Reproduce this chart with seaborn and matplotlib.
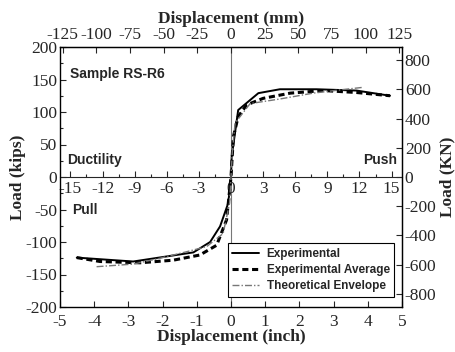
import numpy as np
import pandas as pd
import seaborn as sns
import matplotlib.pyplot as plt

# displacement in inch, load in kips
exp_x = [-4.51, -2.86, -1.1, -0.61, -0.32, -0.08, 0, 0.02, 0.21, 0.8, 1.43, 2.5, 3.67, 4.65]
exp_y = [-124, -130, -116, -100, -76, -40, 0, 31, 103, 129, 135, 135, 133, 125]

avg_x = [-4.51, -3.83, -2.66, -1.69, -0.91, -0.42, -0.13, 0, 0.07, 0.21, 0.46, 0.94, 1.73, 2.7, 3.67, 4.65]
avg_y = [-124, -130, -132, -128, -120, -105, -66, 0, 62, 93, 111, 121, 129, 133, 130, 125]

theo_x = [-3.93, -2.86, -2.08, -1.3, -0.71, -0.23, -0.04, 0, 0.04, 0.12, 0.56, 1.43, 2.4, 3.19, 3.87]
theo_y = [-138, -134, -125, -115, -107, -87, -40, 0, 40, 83, 113, 120, 129, 134, 138]

mm_ticks = list(range(-125, 126, 25))
inch_ticks = list(range(-5, 6))
kips_ticks = list(range(-200, 201, 50))
kn_ticks = list(range(-800, 801, 200))
duct_ticks = list(range(-15, 16, 3))
dy = 0.313  # yield displacement (inch)

sns.set_style("ticks")
plt.rcParams["font.family"] = ["Liberation Serif", "DejaVu Serif"]
plt.rcParams["axes.unicode_minus"] = False
plt.rcParams["xtick.direction"] = "in"
plt.rcParams["ytick.direction"] = "in"

fig = plt.figure(figsize=(4.56, 3.52), dpi=100)
ax = fig.add_axes([60 / 456, 1 - 307 / 352, 342 / 456, 260 / 352])

sns.lineplot(x=exp_x, y=exp_y, ax=ax, color="black", lw=1.4, label="Experimental", sort=False)
sns.lineplot(x=avg_x, y=avg_y, ax=ax, color="black", lw=2.2, label="Experimental Average", sort=False)
sns.lineplot(x=theo_x, y=theo_y, ax=ax, color="#777777", lw=1.0, label="Theoretical Envelope", sort=False)
lines = ax.get_lines()
lines[1].set_linestyle((0, (2, 1.2)))
lines[2].set_linestyle((0, (5, 1.5, 1, 1.5)))

ax.set_xlim(-5, 5)
ax.set_ylim(-200, 200)
ax.axvline(0, color="#777777", lw=0.8, zorder=0)

ax.set_xticks(inch_ticks)
ax.set_yticks(kips_ticks)
ax.set_yticks(range(-175, 200, 25), minor=True)
ax.tick_params(labelsize=12.5, length=4, width=0.8, pad=2)
ax.tick_params(axis="x", pad=5)
ax.tick_params(which="minor", length=2.5, width=0.8)
for s in ax.spines.values():
    s.set_linewidth(1.0)
    s.set_color("black")

ax.set_xlabel("Displacement (inch)", fontsize=12.5, fontweight="bold", labelpad=-1)
ax.set_ylabel("Load (kips)", fontsize=12.5, fontweight="bold")
ax.yaxis.set_label_coords(-0.1, 0.5)

top = ax.secondary_xaxis("top", functions=(lambda x: x * 25.4, lambda m: m / 25.4))
top.set_xticks(mm_ticks)
top.tick_params(labelsize=12.5, direction="in", length=4, width=0.8, pad=3)
top.set_xlabel("Displacement (mm)", fontsize=12.5, fontweight="bold", labelpad=3)

right = ax.secondary_yaxis("right", functions=(lambda k: k * 4.448, lambda n: n / 4.448))
right.set_yticks(kn_ticks)
right.tick_params(labelsize=12.5, direction="in", length=4, width=0.8, pad=2)
right.set_ylabel("Load (KN)", fontsize=12.5, fontweight="bold", labelpad=2)

duct = ax.secondary_xaxis(0.5, functions=(lambda x: x / dy, lambda d: d * dy))
duct.set_xticks(duct_ticks)
duct.set_xticks(np.arange(-15, 15.1, 1.5), minor=True)
duct.xaxis.set_ticks_position("bottom")
duct.tick_params(which="both", labelsize=12.5, direction="in", length=4, width=0.8, pad=3)
duct.tick_params(which="minor", length=2.5)
duct.spines["bottom"].set_linewidth(1.2)

tk = dict(transform=ax.transAxes, fontsize=10, fontweight="bold", family=["Liberation Sans", "DejaVu Sans"], va="center")
ax.text(0.03, 0.896, "Sample RS-R6", **tk)
ax.text(0.022, 0.565, "Ductility", **tk)
ax.text(0.985, 0.565, "Push", ha="right", **tk)
ax.text(0.035, 0.373, "Pull", **tk)

leg = ax.legend(loc="lower right", bbox_to_anchor=(0.995, 0.015), fancybox=False, edgecolor="black",
                framealpha=1, borderpad=0.4, labelspacing=0.35, handlelength=2.3, handletextpad=0.6,
                prop={"family": ["Liberation Sans", "DejaVu Sans"], "weight": "bold", "size": 8.5})
leg.get_frame().set_linewidth(0.8)

fig.savefig("out.png", dpi=100)
